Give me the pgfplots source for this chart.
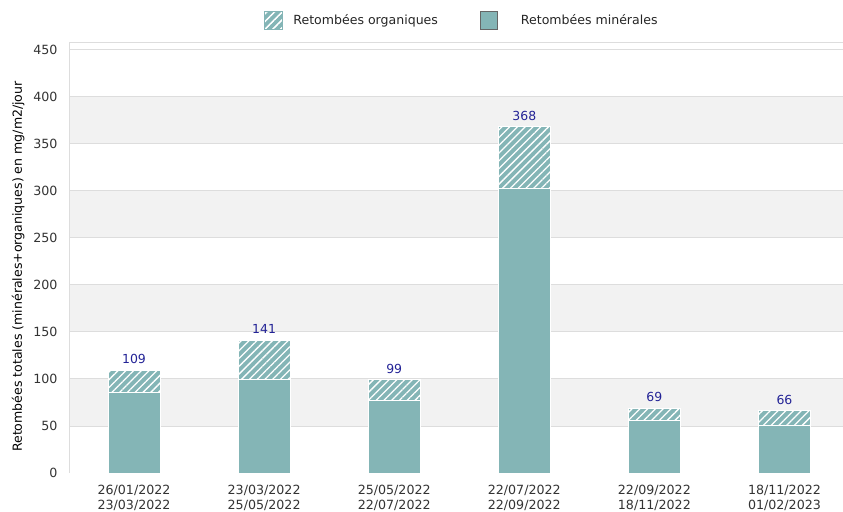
\documentclass[border=0pt]{standalone}
\usepackage{fontspec}
\setmainfont{DejaVu Sans}
\usepackage{pgfplots}
\pgfplotsset{compat=1.18}
\usetikzlibrary{patterns.meta}

\definecolor{bartc}{RGB}{132,181,182}
\definecolor{bandc}{RGB}{242,242,242}
\definecolor{gridc}{RGB}{221,221,221}
\definecolor{lblc}{RGB}{35,35,150}
\definecolor{tickc}{RGB}{51,51,51}

\pgfplotsset{
  frame/.style={
    scale only axis,
    width=774bp, height=431bp,
    xmin=-0.5, xmax=5.45,
    ymin=0, ymax=458,
    axis line style={draw=none},
    tick style={draw=none},
    /pgf/number format/assume math mode=true,
  }
}

\begin{document}
\begin{tikzpicture}
% background: bands and grid lines
\begin{axis}[frame, xtick=\empty, ytick=\empty]
\fill[bandc] (axis cs:-0.5,50)  rectangle (axis cs:5.45,100);
\fill[bandc] (axis cs:-0.5,150) rectangle (axis cs:5.45,200);
\fill[bandc] (axis cs:-0.5,250) rectangle (axis cs:5.45,300);
\fill[bandc] (axis cs:-0.5,350) rectangle (axis cs:5.45,400);
\foreach \yy in {0,50,...,450} {
  \edef\tmp{\noexpand\draw[gridc, line width=0.8bp] (axis cs:-0.5,\yy) -- (axis cs:5.45,\yy);}
  \tmp
}
\draw[gridc, line width=0.8bp] (rel axis cs:0,0) -- (rel axis cs:0,1) -- (rel axis cs:1,1);
\end{axis}

\begin{axis}[
    frame,
    ybar stacked,
    bar width=52bp,
    ytick={0,50,...,450},
    xtick={0,...,5},
    xticklabels={{26/01/2022\\23/03/2022},{23/03/2022\\25/05/2022},{25/05/2022\\22/07/2022},
                 {22/07/2022\\22/09/2022},{22/09/2022\\18/11/2022},{18/11/2022\\01/02/2023}},
    xticklabel style={align=center, font=\fontsize{12.7}{15}\selectfont, text=tickc, yshift=-9bp},
    yticklabel style={font=\fontsize{12.7}{15}\selectfont, text=tickc, xshift=-8bp},
    ylabel={Retombées totales (minérales+organiques) en mg/m2/jour},
    ylabel style={font=\fontsize{12.6}{14}\selectfont, text=black, at={(ticklabel cs:0.479)}, yshift=2bp},
    reverse legend,
    legend columns=2,
    legend style={at={(0.5,1)}, anchor=south, yshift=10bp, xshift=6bp, draw=none,
                  font=\fontsize{12.6}{14}\selectfont, text=black!85,
                  /tikz/every odd column/.append style={column sep=8bp},
                  /tikz/every even column/.append style={column sep=40bp}},
    legend cell align=left,
]

% Retombées minérales
\addplot[fill=bartc, draw=white, line width=1bp,
    legend image code/.code={\draw[fill=bartc, draw=black!60] (0bp,-9bp) rectangle (17bp,9bp);}]
coordinates {(0,86) (1,99) (2,77) (3,302) (4,56) (5,51)};
\addlegendentry{\hspace{13bp}Retombées minérales}

% Retombées organiques
\addplot[fill=bartc, draw=white, line width=1bp,
    postaction={pattern={Lines[angle=45,distance=5.5bp,line width=1.3bp]}, pattern color=white},
    legend image code/.code={\fill[bartc, postaction={pattern={Lines[angle=45,distance=5.5bp,line width=1.3bp]}, pattern color=white}] (0bp,-9bp) rectangle (18bp,9bp);}]
coordinates {(0,23) (1,42) (2,22) (3,66) (4,13) (5,15)};
\addlegendentry{Retombées organiques}
\end{axis}

% totals above the bars
\begin{axis}[frame, hide axis,
    nodes near coords style={font=\fontsize{12.5}{14}\selectfont, text=lblc, anchor=center, yshift=11bp}]
\addplot[draw=none, mark=none, nodes near coords]
coordinates {(0,109) (1,141) (2,99) (3,368) (4,69) (5,66)};
\end{axis}
\pgfresetboundingbox
\path (current axis.south west) ++(-69bp,-39bp) rectangle ([shift={(0bp,42bp)}]current axis.north east);
\end{tikzpicture}
\end{document}
